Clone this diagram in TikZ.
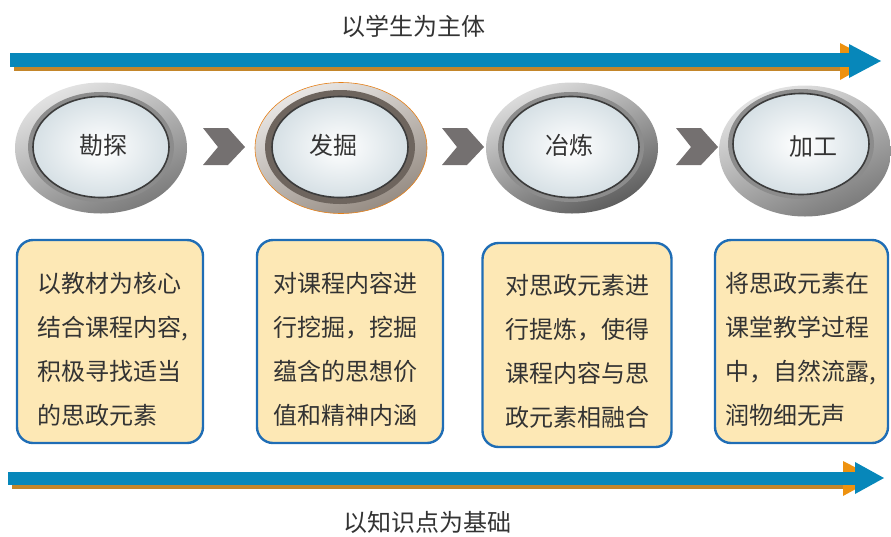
\documentclass[tikz,border=0pt]{standalone}
\usepackage{fontspec}
\setmainfont{Noto Sans CJK SC}
\usetikzlibrary{shapes.geometric}
\definecolor{barblue}{HTML}{0787BA}
\definecolor{barshadow}{HTML}{C4862A}
\definecolor{headorange}{HTML}{EE920F}
\definecolor{chevgray}{HTML}{747070}
\definecolor{boxblue}{HTML}{1F6DB5}
\definecolor{boxfill}{HTML}{FDE8B5}
\definecolor{txtc}{HTML}{333333}
\definecolor{ringA}{HTML}{7A7A7A}
\definecolor{ringB}{HTML}{958B82}
\definecolor{ringC}{HTML}{5C5C5C}
\definecolor{lensedge}{HTML}{D6E0E5}
\definecolor{bandA}{HTML}{8C8C8C}
\definecolor{bandB}{HTML}{6E655E}
\definecolor{lineA}{HTML}{3C3C3C}
\tikzset{
  outerring/.style={ellipse, minimum width=172pt, minimum height=131pt, inner sep=0pt,
     top color=#1!20!white, bottom color=#1, shading angle=25},
  band/.style={ellipse, minimum width=146pt, minimum height=110pt, inner sep=0pt, fill=#1},
  lens/.style={ellipse, minimum width=136pt, minimum height=101pt, inner sep=0pt,
     inner color=white, outer color=lensedge, draw=lineA, line width=1.6pt},
  steplabel/.style={font=\fontsize{24pt}{28pt}\selectfont, text=txtc, inner sep=0pt},
  notebox/.style={rectangle, rounded corners=16pt, draw=boxblue, line width=2.4pt, fill=boxfill, inner sep=0pt},
  notetext/.style={anchor=west, align=left, font=\fontsize{24pt}{44pt}\selectfont, text=txtc, inner sep=0pt},
  chevron/.pic={\fill[chevgray] (-21,-19) -- (4,-19) -- (21,0) -- (4,18) -- (-21,18) -- (-6,0) -- cycle;},
  caption/.style={font=\fontsize{24pt}{28pt}\selectfont, text=txtc, inner sep=0pt}
}
\begin{document}
\begin{tikzpicture}[x=1pt,y=-1pt]
\useasboundingbox (0,0) rectangle (891,536);
% top arrow
\fill[barshadow] (14,57) rectangle (845,71);
\fill[headorange] (840,43) -- (874,61) -- (840,80) -- cycle;
\fill[barblue] (10,53) rectangle (850,67);
\fill[barblue] (849,44) -- (881,61) -- (849,78) -- cycle;
\node[caption] (top) at (413,26) {以学生为主体};
% bottom arrow
\fill[barshadow] (12,476) rectangle (848,489);
\fill[headorange] (843,461) -- (876,478) -- (843,496) -- cycle;
\fill[barblue] (8,472) rectangle (856,485);
\fill[barblue] (855,462) -- (884,478) -- (855,494) -- cycle;
\node[caption] (bottom) at (427,522) {以知识点为基础};
% step 1
\node[outerring=ringA] (o1) at (101,148) {};
\node[band=bandA] (d1) at (101,147) {};
\node[lens] (l1) at (101,147) {};
\node[steplabel] (s1) at (103,145) {勘探};
% step 2
\node[outerring=ringB, draw=orange!60!brown, line width=0.6pt] (o2) at (341,148) {};
\node[band=bandB, minimum width=150pt, minimum height=114pt] (d2) at (340,147) {};
\node[lens] (l2) at (340,147) {};
\node[steplabel] (s2) at (333,145) {发掘};
% step 3
\node[outerring=ringC] (o3) at (572,148) {};
\node[band=bandA] (d3) at (571,147) {};
\node[lens] (l3) at (571,147) {};
\node[steplabel] (s3) at (569,145) {冶炼};
% step 4
\node[outerring=ringA] (o4) at (805,151) {};
\node[band=bandA] (d4) at (801,144) {};
\node[lens] (l4) at (801,144) {};
\node[steplabel] (s4) at (813,147) {加工};
% chevrons
\pic at (224,147) {chevron};
\pic at (463,147) {chevron};
\pic at (697,147) {chevron};
% boxes
\node[notebox, minimum width=186pt, minimum height=203pt] (b1) at (110,341.5) {};
\node[notetext] (t1) at (37,349) {以教材为核心\\结合课程内容,\\积极寻找适当\\的思政元素};
\node[notebox, minimum width=186pt, minimum height=203pt] (b2) at (350,341.5) {};
\node[notetext] (t2) at (273,349) {对课程内容进\\行挖掘，挖掘\\蕴含的思想价\\值和精神内涵};
\node[notebox, minimum width=189pt, minimum height=204pt] (b3) at (577,345) {};
\node[notetext] (t3) at (505,351) {对思政元素进\\行提炼，使得\\课程内容与思\\政元素相融合};
\node[notebox, minimum width=173pt, minimum height=203pt] (b4) at (801.5,341.5) {};
\node[notetext] (t4) at (725,349) {将思政元素在\\课堂教学过程\\中，自然流露,\\润物细无声};
\end{tikzpicture}
\end{document}
